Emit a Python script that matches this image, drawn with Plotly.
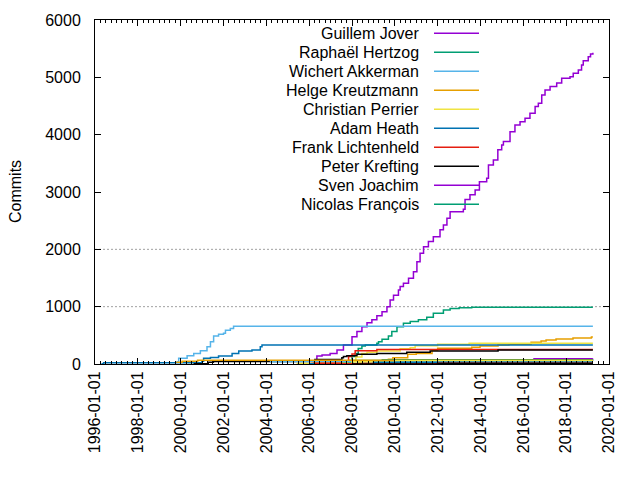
import plotly.graph_objects as go

FONT = "Liberation Sans, Arial, sans-serif"

names = ["Guillem Jover", "Raphaël Hertzog", "Wichert Akkerman", "Helge Kreutzmann",
         "Christian Perrier", "Adam Heath", "Frank Lichtenheld", "Peter Krefting",
         "Sven Joachim", "Nicolas François"]

palette = ["#9400d3", "#009e73", "#56b4e9", "#e69f00", "#f0e442", "#0072b2", "#e51e10", "#000000"]

guillem_x = ["2006-01-19", "2006-05-12", "2006-08-08", "2006-12-24", "2007-04-20", "2007-08-08",
             "2008-01-01", "2008-03-25", "2008-06-18", "2008-09-13", "2008-12-05", "2009-02-28",
             "2009-05-27", "2009-08-19", "2009-10-12", "2009-12-09", "2010-03-03", "2010-04-01",
             "2010-05-27", "2010-08-22", "2010-11-14", "2011-01-12", "2011-03-07", "2011-05-05",
             "2011-07-27", "2011-10-19", "2012-02-10", "2012-04-08", "2012-06-07", "2012-07-31",
             "2013-03-14", "2013-04-12", "2013-07-05", "2013-10-01", "2013-12-13", "2014-04-16",
             "2014-05-16", "2014-08-08", "2014-10-23", "2014-12-28", "2015-01-26", "2015-05-19",
             "2015-08-11", "2015-11-06", "2016-01-30", "2016-04-23", "2016-07-20", "2016-09-13",
             "2016-11-10", "2017-01-05", "2017-04-01", "2017-07-23", "2017-10-16", "2018-03-07",
             "2018-05-01", "2018-07-27", "2018-09-20", "2018-10-19", "2019-01-12", "2019-02-20",
             "2019-04-01"]
guillem_y = [10, 140, 155, 185, 245, 330, 475, 565, 650, 720, 770, 840, 910, 1000, 1115, 1200,
             1290, 1350, 1410, 1495, 1610, 1785, 1930, 2045, 2135, 2220, 2340, 2425, 2540, 2655,
             2700, 2870, 2950, 3035, 3180, 3240, 3470, 3560, 3735, 3820, 3880, 4050, 4170, 4225,
             4285, 4375, 4490, 4550, 4690, 4780, 4840, 4900, 4985, 5010, 5070, 5130, 5215, 5290,
             5360, 5405, 5430]

raphael_x = ["2006-05-12", "2006-07-09", "2007-11-03", "2008-01-01", "2008-02-24", "2008-04-16",
             "2008-06-18", "2008-08-15", "2009-02-28", "2009-03-28", "2009-05-27", "2009-09-13",
             "2009-11-10", "2010-02-06", "2010-05-27", "2010-09-20", "2011-02-06", "2011-06-29",
             "2011-10-19", "2012-04-08", "2012-07-31", "2013-01-01", "2013-08-04", "2019-04-01"]
raphael_y = [5, 30, 60, 130, 185, 270, 315, 330, 360, 390, 430, 490, 565, 650, 710, 740, 770,
             815, 885, 940, 970, 980, 990, 990]

wichert_x = ["1999-10-19", "1999-11-28", "2000-04-20", "2000-08-11", "2000-12-02", "2001-03-25",
             "2001-05-23", "2001-07-16", "2001-10-08", "2002-01-01", "2002-02-03", "2002-04-27",
             "2002-06-21", "2019-04-01"]
wichert_y = [40, 100, 145, 185, 230, 300, 390, 490, 520, 535, 590, 620, 660, 660]

helge_x = ["2006-08-08", "2008-04-16", "2009-09-13", "2009-11-28", "2010-08-08", "2011-01-01",
           "2011-09-27", "2012-01-01", "2013-08-04", "2013-12-24", "2014-10-27", "2015-05-01",
           "2016-05-12", "2016-10-30", "2017-01-23", "2017-07-12", "2018-04-27", "2019-03-07",
           "2019-04-01"]
helge_y = [5, 20, 85, 110, 170, 185, 240, 275, 290, 315, 330, 345, 380, 400, 420, 435, 455,
           470, 470]

christian_x = ["2006-01-19", "2007-10-19", "2008-03-07", "2008-06-18", "2008-09-13", "2009-02-28",
               "2010-04-01", "2010-09-20", "2010-12-13", "2012-01-01", "2013-06-21", "2019-04-01"]
christian_y = [10, 40, 120, 185, 205, 225, 265, 285, 320, 345, 362, 362]

adam_x = ["1996-04-20", "1996-05-27", "2000-12-28", "2001-01-26", "2001-05-23", "2001-10-08",
          "2002-05-27", "2002-09-17", "2003-05-01", "2003-09-20", "2003-10-19", "2019-04-01"]
adam_y = [5, 20, 50, 100, 115, 140, 185, 225, 245, 300, 330, 330]

frank_x = ["2006-01-19", "2006-03-14", "2007-07-09", "2007-11-03", "2008-01-01", "2008-02-24",
           "2009-02-28", "2019-04-01"]
frank_y = [10, 30, 50, 130, 175, 230, 255, 255]

peter_x = ["2000-08-08", "2001-04-16", "2001-07-12", "2006-01-01", "2006-04-08", "2007-07-12",
           "2007-08-08", "2007-10-05", "2008-03-25", "2009-02-28", "2010-07-23", "2011-08-26",
           "2014-10-27", "2019-04-01"]
peter_y = [5, 30, 45, 55, 80, 110, 130, 145, 170, 185, 205, 225, 245, 245]

sven_x = ["2006-11-01", "2008-07-01", "2010-07-01", "2013-01-01", "2015-07-01", "2016-07-01",
          "2019-04-01"]
sven_y = [2, 15, 35, 55, 70, 90, 92]

nicolas_x = ["2006-05-01", "2007-11-01", "2008-01-15", "2009-06-01", "2019-04-01"]
nicolas_y = [5, 30, 60, 72, 75]

# smaller contributors without a key entry
other_x = [
    ["2004-03-01", "2005-01-01", "2019-04-01"],
    ["1999-10-19", "2000-01-26", "2000-10-16", "2019-04-01"],
    ["2005-06-01", "2008-01-01", "2010-01-01", "2019-04-01"],
    ["2006-01-01", "2009-01-01", "2019-04-01"],
    ["2006-04-01", "2012-01-01", "2019-04-01"],
    ["2008-01-01", "2012-01-01", "2019-04-01"],
]
other_y = [
    [40, 45, 45],
    [30, 50, 65, 65],
    [10, 40, 55, 55],
    [5, 30, 30],
    [3, 15, 15],
    [2, 8, 8],
]

series_x = [guillem_x, raphael_x, wichert_x, helge_x, christian_x, adam_x, frank_x, peter_x,
            sven_x, nicolas_x] + other_x
series_y = [guillem_y, raphael_y, wichert_y, helge_y, christian_y, adam_y, frank_y, peter_y,
            sven_y, nicolas_y] + other_y

y_ticks = [0, 1000, 2000, 3000, 4000, 5000, 6000]
grid_levels = [1000, 2000]

fig = go.Figure()
for i, (xs, ys) in enumerate(zip(series_x, series_y)):
    fig.add_trace(go.Scatter(
        x=xs, y=ys, mode="lines", line_shape="hv",
        line=dict(color=palette[i % len(palette)], width=1.5),
        name=names[i] if i < len(names) else "", showlegend=False,
        hoverinfo="skip"))

# Key (gnuplot style: right-justified text, sample on the right)
L, R, T, B = 95, 609, 20, 364
W, H = R - L, B - T
key_text_x = (421 - L) / W
key_l0 = (434 - L) / W
key_l1 = (479 - L) / W
annotations = []
shapes = []
for i, nm in enumerate(names):
    ypix = 33.3 + 19 * i
    yp = (B - ypix) / H
    annotations.append(dict(x=key_text_x, y=yp, xref="paper", yref="paper", text=nm,
                            showarrow=False, xanchor="right", yanchor="middle",
                            font=dict(family=FONT, size=16, color="#000000")))
    shapes.append(dict(type="line", xref="paper", yref="paper", x0=key_l0, x1=key_l1,
                       y0=yp, y1=yp, line=dict(color=palette[i % len(palette)], width=1.5)))

for g in grid_levels:
    shapes.append(dict(type="line", xref="paper", yref="y", x0=0, x1=1, y0=g, y1=g,
                       layer="below", line=dict(color="#a0a0a0", width=1, dash="2px,2px")))

annotations.append(dict(x=(15 - L) / W, y=0.5, xref="paper", yref="paper", text="Commits",
                        textangle=-90, showarrow=False, xanchor="center", yanchor="middle",
                        font=dict(family=FONT, size=16, color="#000000")))

fig.update_layout(
    width=640, height=480,
    margin=dict(l=L, r=640 - R, t=T, b=480 - B),
    paper_bgcolor="white", plot_bgcolor="white",
    font=dict(family=FONT, size=16, color="#000000"),
    showlegend=False,
    annotations=annotations, shapes=shapes,
    xaxis=dict(type="date", range=["1996-01-01", "2020-01-01"], tick0="1996-01-01",
               dtick="M24", tickformat="%Y-%m-%d", tickangle=-90,
               ticks="inside", ticklen=6, tickcolor="#000000", tickwidth=1,
               showline=True, linecolor="#000000", linewidth=1, mirror="ticks",
               showgrid=False, zeroline=False,
               minor=dict(ticks="inside", dtick="M3", ticklen=3, tickcolor="#000000",
                          showgrid=False),
               tickfont=dict(family=FONT, size=16)),
    yaxis=dict(range=[0, 6000], tickvals=y_ticks, ticktext=[str(v) for v in y_ticks],
               ticks="inside", ticklen=6, tickcolor="#000000", tickwidth=1,
               showline=True, linecolor="#000000", linewidth=1, mirror="ticks",
               showgrid=False, zeroline=False, ticklabelstandoff=10,
               tickfont=dict(family=FONT, size=16)),
)

fig.write_html("out.html")
